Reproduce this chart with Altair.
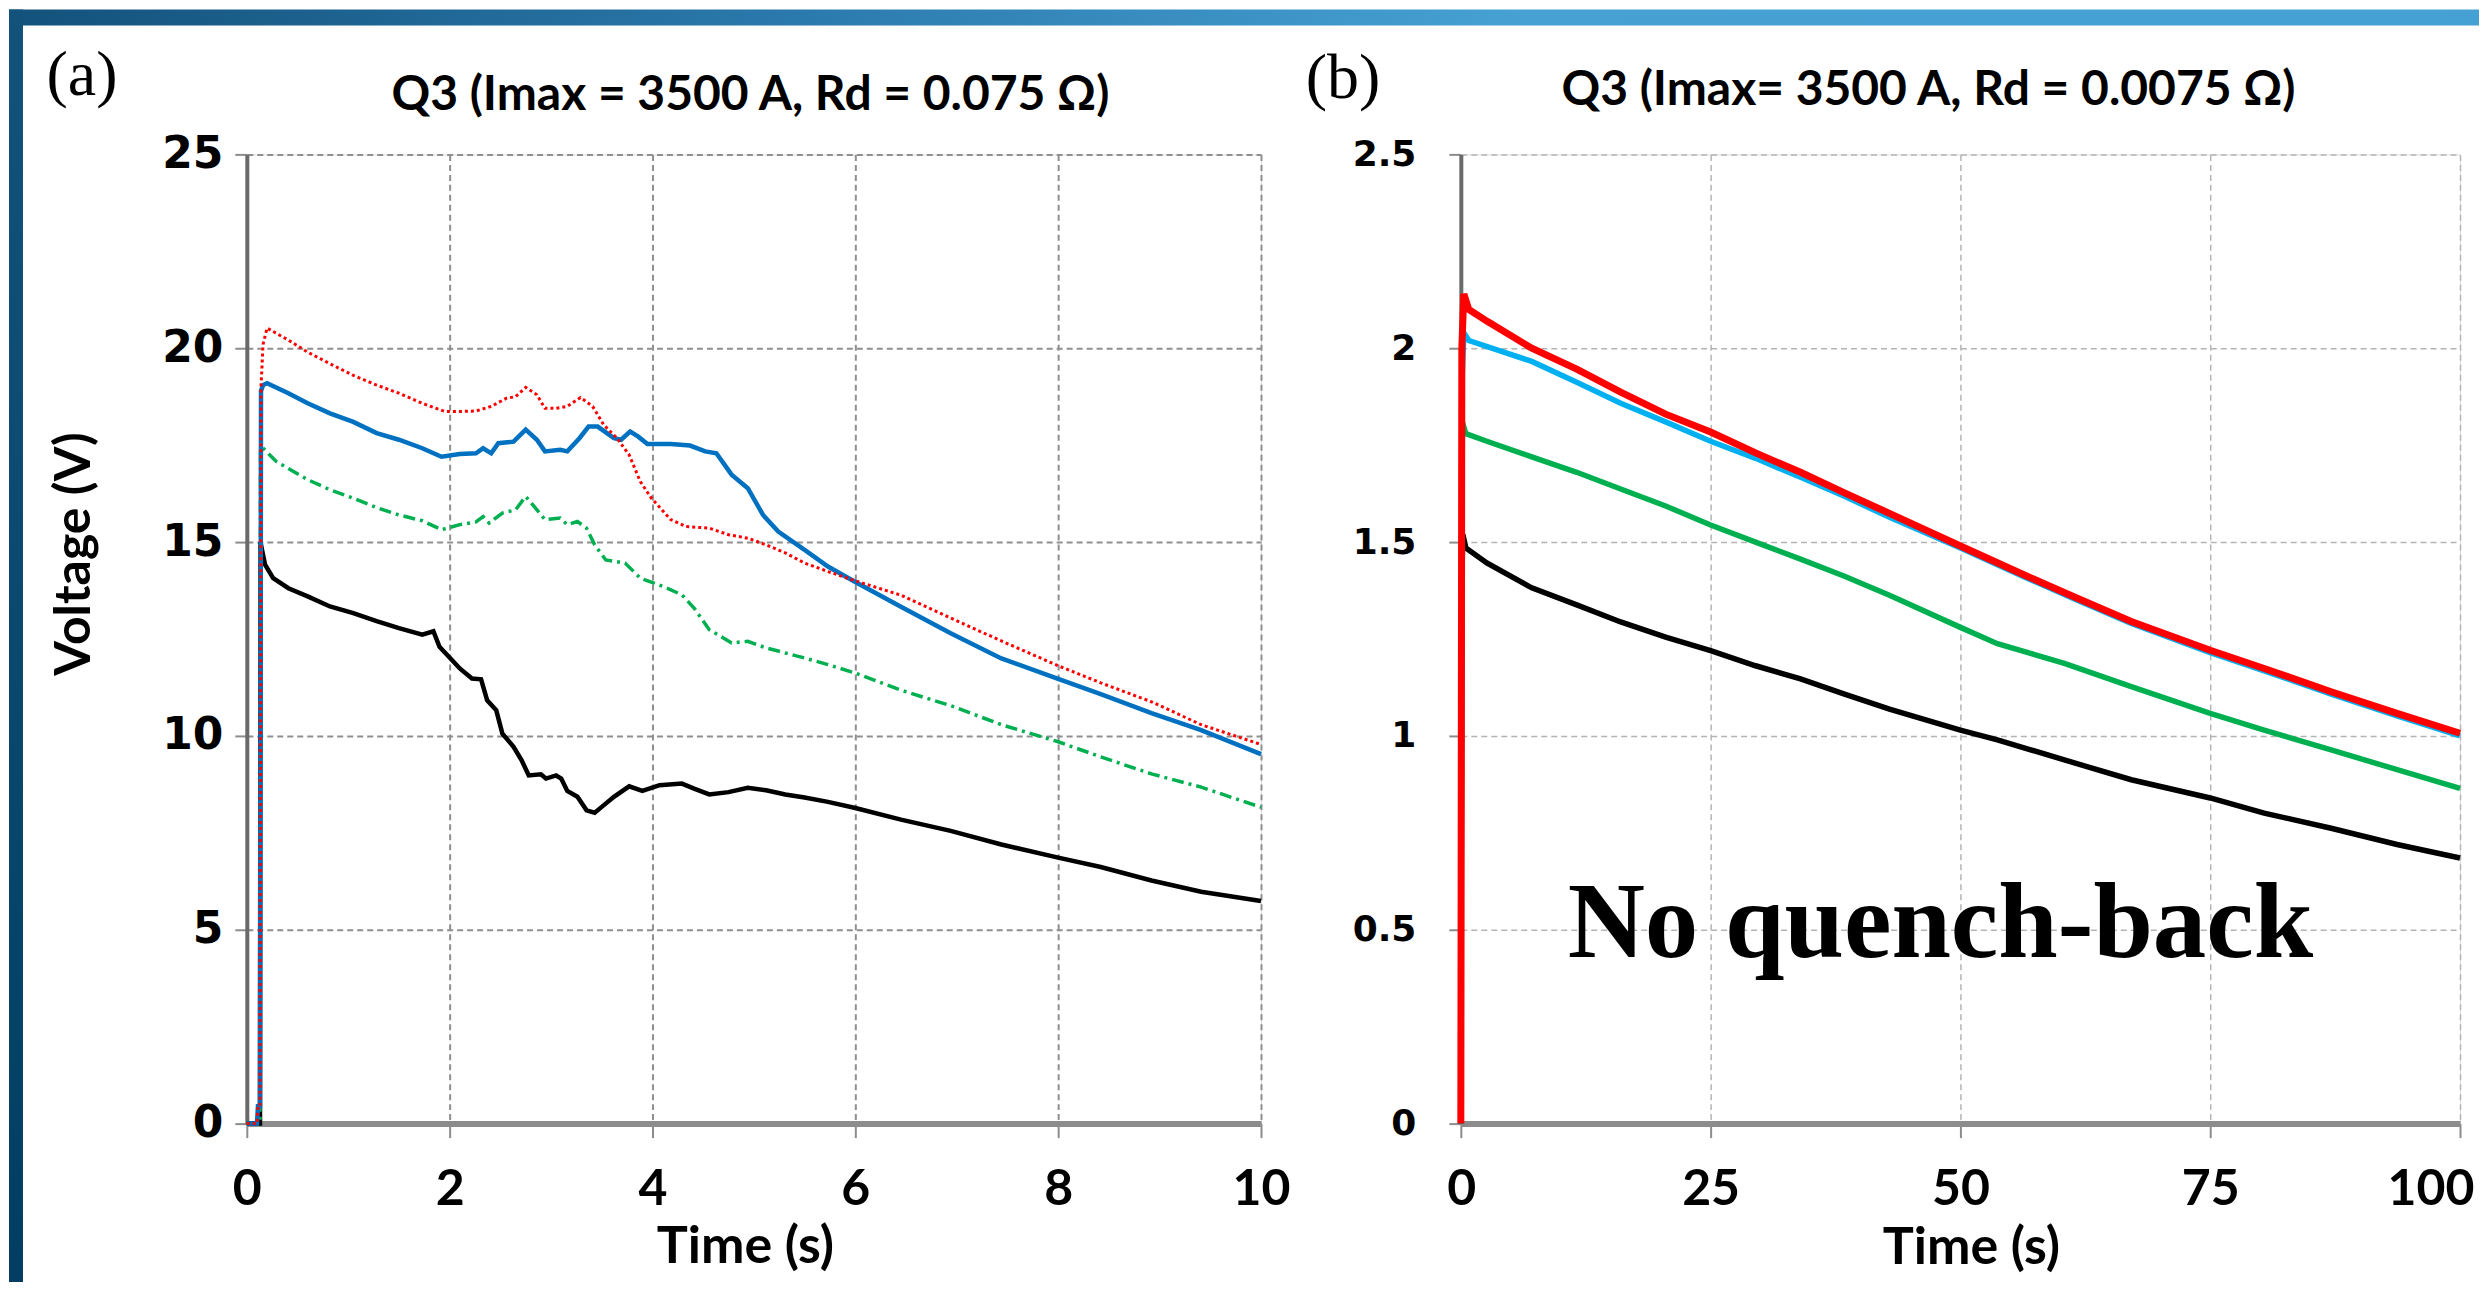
import altair as alt
import pandas as pd

# ---------------- data: panel (a), Rd = 0.075 Ohm, 0-10 s ----------------
a_red_t = [0, 0.10, 0.11, 0.13, 0.14, 0.16, 0.2, 0.41, 0.6, 0.82, 1.05, 1.28, 1.5, 1.73, 1.95, 2.1, 2.26,
           2.41, 2.56, 2.65, 2.75, 2.86, 2.94, 3.05, 3.16, 3.29, 3.41, 3.52, 3.65, 3.77, 3.88, 3.99, 4.18,
           4.33, 4.56, 4.75, 4.94, 5.12, 5.31, 5.5, 5.73, 6.0, 6.45, 6.94, 7.44, 8.0, 8.42, 8.92, 9.41, 10.0]
a_red_v = [0, 0, 0.45, 0.45, 19.0, 20.1, 20.52, 20.21, 19.9, 19.6, 19.3, 19.05, 18.84, 18.58, 18.37, 18.37,
           18.38, 18.5, 18.71, 18.75, 18.99, 18.8, 18.45, 18.45, 18.5, 18.73, 18.5, 18.02, 17.68, 17.25,
           16.56, 16.13, 15.58, 15.4, 15.36, 15.19, 15.1, 14.93, 14.72, 14.46, 14.24, 14.0, 13.63, 13.04,
           12.45, 11.81, 11.37, 10.88, 10.29, 9.78]

a_blue_t = [0, 0.10, 0.11, 0.13, 0.14, 0.16, 0.2, 0.41, 0.6, 0.82, 1.05, 1.28, 1.5, 1.73, 1.92, 2.1, 2.26,
            2.33, 2.41, 2.48, 2.63, 2.75, 2.86, 2.94, 3.09, 3.16, 3.28, 3.37, 3.46, 3.62, 3.69, 3.78, 3.86,
            3.95, 4.18, 4.37, 4.52, 4.63, 4.78, 4.94, 5.09, 5.24, 5.5, 5.73, 6.0, 6.45, 6.94, 7.44, 8.0,
            8.42, 8.92, 9.41, 10.0]
a_blue_v = [0, 0, 0.45, 0.45, 18.9, 19.05, 19.1, 18.84, 18.58, 18.32, 18.1, 17.81, 17.64, 17.42, 17.2,
            17.27, 17.29, 17.42, 17.29, 17.55, 17.59, 17.9, 17.64, 17.34, 17.38, 17.34, 17.68, 17.98, 17.98,
            17.68, 17.64, 17.85, 17.72, 17.53, 17.53, 17.49, 17.34, 17.29, 16.74, 16.39, 15.7, 15.27, 14.8,
            14.37, 13.97, 13.33, 12.65, 12.0, 11.47, 11.08, 10.59, 10.15, 9.53]

a_green_t = [0, 0.13, 0.135, 0.15, 0.29, 0.6, 0.82, 1.05, 1.28, 1.5, 1.73, 1.92, 2.1, 2.26, 2.33, 2.39,
             2.52, 2.65, 2.75, 2.82, 2.94, 3.09, 3.16, 3.26, 3.35, 3.43, 3.54, 3.73, 3.88, 4.1, 4.29, 4.41,
             4.56, 4.78, 4.94, 5.12, 5.31, 5.5, 5.73, 6.0, 6.45, 6.94, 7.44, 8.0, 8.42, 8.92, 9.41, 10.0]
a_green_v = [0, 0, 17.4, 17.45, 17.08, 16.61, 16.35, 16.13, 15.89, 15.7, 15.55, 15.32, 15.45, 15.52, 15.66,
             15.49, 15.75, 15.83, 16.18, 15.96, 15.58, 15.62, 15.45, 15.53, 15.36, 14.93, 14.54, 14.46,
             14.07, 13.86, 13.64, 13.3, 12.74, 12.4, 12.44, 12.27, 12.14, 12.01, 11.84, 11.62, 11.18, 10.78,
             10.29, 9.85, 9.46, 9.02, 8.68, 8.16]

a_black_t = [0, 0.13, 0.135, 0.15, 0.18, 0.26, 0.41, 0.6, 0.82, 1.05, 1.28, 1.5, 1.73, 1.84, 1.9, 1.99, 2.1,
             2.22, 2.31, 2.37, 2.46, 2.52, 2.63, 2.71, 2.78, 2.9, 2.95, 3.05, 3.1, 3.16, 3.26, 3.35, 3.43,
             3.5, 3.62, 3.77, 3.9, 4.07, 4.29, 4.41, 4.56, 4.75, 4.94, 5.12, 5.31, 5.5, 5.73, 6.0, 6.45,
             6.94, 7.44, 8.0, 8.42, 8.92, 9.41, 10.0]
a_black_v = [0, 0, 15.0, 14.8, 14.42, 14.07, 13.81, 13.6, 13.34, 13.17, 12.96, 12.78, 12.61, 12.7, 12.3,
             12.05, 11.74, 11.48, 11.46, 10.92, 10.66, 10.06, 9.72, 9.37, 8.98, 9.01, 8.9, 8.98, 8.9, 8.58,
             8.43, 8.08, 8.02, 8.17, 8.43, 8.7, 8.58, 8.73, 8.77, 8.64, 8.49, 8.55, 8.66, 8.6, 8.49, 8.41,
             8.3, 8.14, 7.84, 7.55, 7.2, 6.86, 6.62, 6.27, 5.98, 5.74]

# ---------------- data: panel (b), Rd = 0.0075 Ohm, 0-100 s ----------------
b_red_t = [0, 0.1, 0.3, 0.8, 2.6, 7.1, 11.6, 16.0, 20.5, 25, 29.5, 34, 38.4, 42.9, 50, 56.4, 61.7, 67.1,
           75, 80.4, 87.1, 93.7, 100]
b_red_v = [0, 2.0, 2.14, 2.10, 2.07, 2.0, 1.946, 1.887, 1.83, 1.784, 1.73, 1.68, 1.627, 1.574, 1.49, 1.415,
           1.355, 1.295, 1.221, 1.174, 1.114, 1.058, 1.007]

b_blue_t = [0, 0.1, 0.3, 0.8, 7.1, 11.6, 16, 20.5, 25, 29.5, 34, 38.4, 42.9, 50, 56.4, 61.7, 67.1, 75,
            80.4, 87.1, 93.7, 100]
b_blue_v = [0, 1.9, 2.04, 2.02, 1.966, 1.912, 1.858, 1.81, 1.76, 1.716, 1.667, 1.618, 1.564, 1.485, 1.41,
            1.35, 1.29, 1.215, 1.168, 1.108, 1.052, 1.0]

b_green_t = [0, 0.1, 0.15, 0.5, 2.6, 7.1, 11.6, 16, 20.5, 25, 29.5, 34, 38.4, 42.9, 50, 53.7, 60.4, 67.1,
             75, 80.4, 87.1, 93.7, 100]
b_green_v = [0, 1.7, 1.81, 1.78, 1.76, 1.72, 1.68, 1.637, 1.593, 1.544, 1.5, 1.456, 1.412, 1.363, 1.28,
             1.238, 1.187, 1.127, 1.058, 1.015, 0.964, 0.913, 0.865]

b_black_t = [0, 0.1, 0.2, 0.5, 2.6, 7.1, 11.6, 16, 20.5, 25, 29.5, 34, 38.4, 42.9, 50, 53.7, 60.4, 67.1,
             75, 80.4, 87.1, 93.7, 100]
b_black_v = [0, 1.4, 1.52, 1.485, 1.446, 1.382, 1.338, 1.294, 1.255, 1.22, 1.181, 1.147, 1.108, 1.069,
             1.015, 0.99, 0.938, 0.887, 0.84, 0.801, 0.762, 0.72, 0.685]

a_x_ticks = [0, 2, 4, 6, 8, 10]
a_y_ticks = [0, 5, 10, 15, 20, 25]
b_x_ticks = [0, 25, 50, 75, 100]
b_y_ticks = [0, 0.5, 1, 1.5, 2, 2.5]

title_a = "Q3 (Imax = 3500 A, Rd = 0.075 Ω)"
title_b = "Q3 (Imax= 3500 A, Rd = 0.0075 Ω)"
label_a = "(a)"
label_b = "(b)"
x_title = "Time (s)"
y_title = "Voltage (V)"
note_b = "No quench-back"

# ---------------- styling ----------------
NARROW = "Lato, Liberation Sans, sans-serif"
WIDE = "DejaVu Sans, Verdana, sans-serif"
SERIF = "Liberation Serif, DejaVu Serif, serif"

AW, AH = 1015, 970
BW, BH = 1000, 970


def df(t, v):
    return pd.DataFrame({"t": t, "v": v})


def encodings(xdom, xvals, ydom, yvals, yfs, ypad, gridcol, gridw, fmt, flush):
    xaxis = dict(values=xvals, format="d", grid=True, gridDash=[6, 4], gridColor=gridcol,
                 gridWidth=gridw, domainColor="#8c8c8c", domainWidth=6, tickColor="#8c8c8c",
                 tickSize=14, tickWidth=2, labelFont=NARROW, labelFontSize=50,
                 labelFontWeight="bold", labelColor="black", labelPadding=27,
                 labelOverlap=False, title=None)
    if flush:
        xaxis.update(labelFlush=True, labelFlushOffset=14)
    else:
        xaxis.update(labelFlush=False)
    x = alt.X("t:Q", scale=alt.Scale(domain=xdom, nice=False, zero=False), axis=alt.Axis(**xaxis))
    y = alt.Y("v:Q", scale=alt.Scale(domain=ydom, nice=False),
              axis=alt.Axis(values=yvals, format=fmt, grid=True, gridDash=[6, 4], gridColor=gridcol,
                            gridWidth=gridw, domainColor="#6a6a6a", domainWidth=4, tickColor="#8c8c8c",
                            tickSize=12, tickWidth=2, labelFont=WIDE, labelFontSize=yfs,
                            labelFontWeight="bold", labelColor="black", labelPadding=ypad,
                            labelFlush=False, labelOverlap=False, title=None))
    return x, y


def line(data, x, y, color, width, dash=None):
    kw = dict(color=color, strokeWidth=width, interpolate="linear")
    if dash:
        kw["strokeDash"] = dash
    return alt.Chart(data).mark_line(**kw).encode(x=x, y=y)


def txt(s, x, y, font, size, weight="normal", angle=0, align="center", baseline="middle"):
    return alt.Chart(pd.DataFrame({"label": [s]})).mark_text(
        font=font, fontSize=size, fontWeight=weight, angle=angle, align=align,
        baseline=baseline, color="black").encode(x=alt.value(x), y=alt.value(y), text="label:N")


one = pd.DataFrame({"k": [0]})
band_top = alt.Chart(one).mark_rect(color=alt.LinearGradient(
    gradient="linear", x1=0, x2=1, y1=0, y2=0,
    stops=[alt.GradientStop(color="#13527b", offset=0), alt.GradientStop(color="#2a78ab", offset=0.3),
           alt.GradientStop(color="#47a1d3", offset=0.6), alt.GradientStop(color="#45a0d4", offset=1)])
).encode(x=alt.value(-238), x2=alt.value(2290), y=alt.value(-145), y2=alt.value(-129))
band_left = alt.Chart(one).mark_rect(color=alt.LinearGradient(
    gradient="linear", x1=0, x2=0, y1=0, y2=1,
    stops=[alt.GradientStop(color="#13527b", offset=0), alt.GradientStop(color="#003d60", offset=1)])
).encode(x=alt.value(-238), x2=alt.value(-224), y=alt.value(-145), y2=alt.value(1200))

# ---------------- panel (a) ----------------
xa, ya = encodings([0, 10], a_x_ticks, [0, 25], a_y_ticks, 44, 12, "#8f8f8f", 2, "d", False)
panel_a = alt.layer(
    band_top, band_left,
    line(df(a_black_t, a_black_v), xa, ya, "#000000", 4.5),
    line(df(a_green_t, a_green_v), xa, ya, "#00b050", 3.5, [12, 5, 3, 5]),
    line(df(a_blue_t, a_blue_v), xa, ya, "#0070c0", 4.5),
    line(df(a_red_t, a_red_v), xa, ya, "#ff0000", 3, [3, 3]),
    txt(label_a, -165, -78, SERIF, 64),
    txt(title_a, 504, -58, NARROW, 48, "bold"),
    txt(y_title, -172, 400, NARROW, 50, "bold", angle=270),
    txt(x_title, 499, 1093, NARROW, 52, "bold"),
).properties(width=AW, height=AH)

# ---------------- panel (b) ----------------
xb, yb = encodings([0, 100], b_x_ticks, [0, 2.5], b_y_ticks, 36, 33, "#b4b4b4", 1.5, "~g", True)
panel_b = alt.layer(
    line(df(b_black_t, b_black_v), xb, yb, "#000000", 5.5),
    line(df(b_green_t, b_green_v), xb, yb, "#00b050", 5.5),
    line(df(b_blue_t, b_blue_v), xb, yb, "#00b0f0", 5.5),
    line(df(b_red_t, b_red_v), xb, yb, "#ff0000", 7),
    txt(label_b, -118, -75, SERIF, 64),
    txt(title_b, 468, -63, NARROW, 48, "bold"),
    txt(x_title, 511, 1095, NARROW, 52, "bold"),
    txt(note_b, 480, 803, SERIF, 107, "bold", baseline="alphabetic"),
).properties(width=BW, height=BH)

# negative right/bottom padding trims the decorative band exactly at the window edge
chart = alt.hconcat(panel_a, panel_b, spacing=200, bounds="flush").properties(
    padding={"left": 0, "top": 0, "right": -57, "bottom": -73}
).configure_view(stroke="black", strokeWidth=4).configure(background="white")

chart.save("out.html", embed_options={"renderer": "svg", "actions": False})
